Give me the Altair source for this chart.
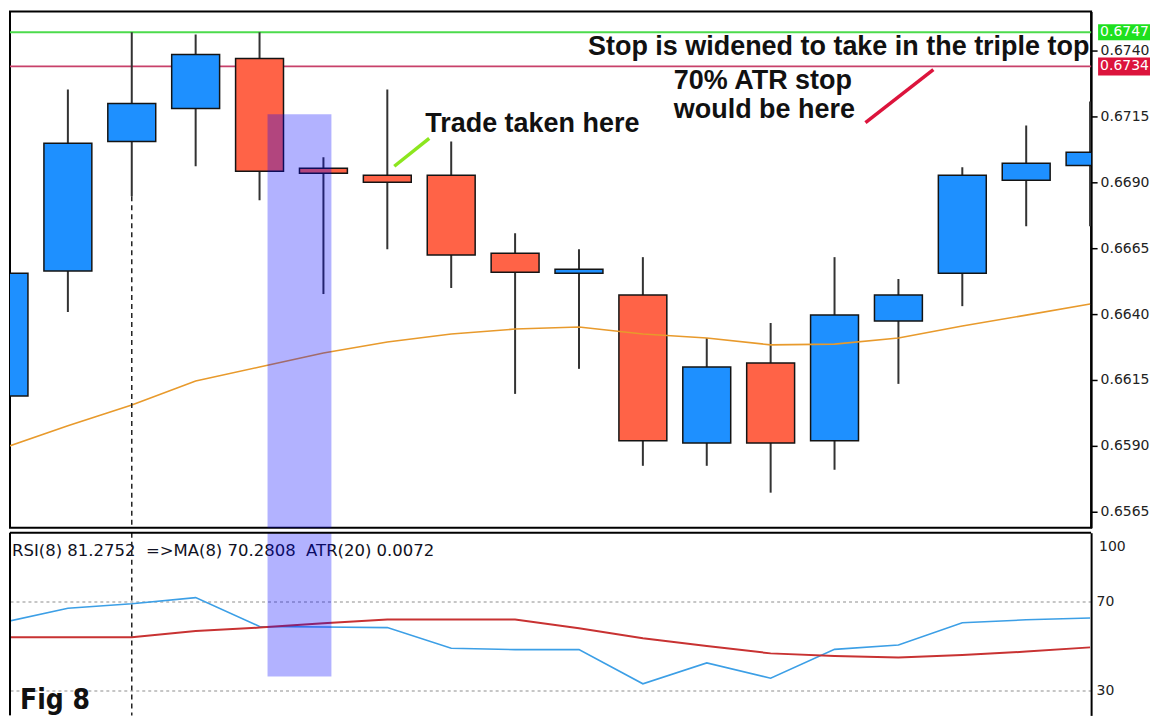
import altair as alt
import pandas as pd

# ---------------- data ----------------
candle_idx = list(range(18))
opens  = [0.66089, 0.66563, 0.67055, 0.67180, 0.67370, 0.66953, 0.66927, 0.66927, 0.66631,
          0.66555, 0.66472, 0.65911, 0.66214, 0.65919, 0.66374, 0.66555, 0.66908, 0.66964]
closes = [0.66555, 0.67048, 0.67199, 0.67385, 0.66942, 0.66934, 0.66900, 0.66624, 0.66559,
          0.66570, 0.65919, 0.66199, 0.65911, 0.66396, 0.66472, 0.66927, 0.66972, 0.67014]
highs  = [0.66620, 0.67252, 0.67470, 0.67461, 0.67470, 0.66995, 0.67252, 0.67055, 0.66707,
          0.66646, 0.66616, 0.66309, 0.66366, 0.66616, 0.66533, 0.66957, 0.67116, 0.67207]
lows   = [0.66040, 0.66408, 0.66847, 0.66961, 0.66832, 0.66476, 0.66646, 0.66499, 0.66097,
          0.66192, 0.65824, 0.65824, 0.65722, 0.65809, 0.66135, 0.66430, 0.66733, 0.66733]
ma_values = [0.65892, 0.65976, 0.66055, 0.66146, 0.66199, 0.66252, 0.66294, 0.66324, 0.66343,
             0.66351, 0.66324, 0.66309, 0.66283, 0.66286, 0.66309, 0.66355, 0.66396, 0.66438]
rsi_values = [60.7, 67.0, 69.0, 71.8, 58.8, 58.6, 58.3, 49.0, 48.4,
              48.4, 33.0, 42.4, 35.5, 48.5, 50.5, 60.5, 61.8, 62.6]
rsi_ma_values = [54.0, 54.0, 54.0, 56.8, 58.3, 60.3, 61.9, 61.9, 61.9,
                 58.0, 53.5, 50.0, 46.7, 45.5, 44.8, 46.0, 47.5, 49.4]

price_ticks = [0.6565, 0.6590, 0.6615, 0.6640, 0.6665, 0.6690, 0.6715, 0.6740]
rsi_ticks = [70, 30]
take_profit_line = 0.6747
atr_stop_line = 0.6734
info_text = "RSI(8) 81.2752\u00a0\u00a0=>MA(8) 70.2808\u00a0\u00a0ATR(20) 0.0072"

df = pd.DataFrame({
    "i": candle_idx, "open": opens, "high": highs, "low": lows, "close": closes,
    "ma": ma_values, "rsi": rsi_values, "rsi_ma": rsi_ma_values,
})
one = pd.DataFrame({"k": [0]})

W, H1, H2 = 1083, 517, 183
LABEL_FONT = "DejaVu Sans"
LABEL_SIZE = 14

xscale = alt.Scale(domain=[0.094, 17.016], nice=False, zero=False)
yscale = alt.Scale(domain=[0.65589, 0.67548], nice=False, zero=False)
rscale = alt.Scale(domain=[18.8, 101.0], nice=False, zero=False)

price_axis = alt.Axis(orient="right", values=price_ticks, format=".4f", title=None, grid=False,
                      domain=True, domainColor="black", domainWidth=2,
                      ticks=True, tickColor="black", tickSize=6, tickWidth=1.5,
                      labelFont=LABEL_FONT, labelFontSize=LABEL_SIZE, labelColor="#222222",
                      labelPadding=3)
rsi_axis = alt.Axis(orient="right", values=rsi_ticks, title=None, grid=True,
                    gridColor="#b4b4b4", gridDash=[3, 3], gridWidth=1.5,
                    domain=True, domainColor="black", domainWidth=2, ticks=False,
                    labelFont=LABEL_FONT, labelFontSize=LABEL_SIZE, labelColor="#222222",
                    labelPadding=5)


def X(field):
    return alt.X(field, type="quantitative", scale=xscale, axis=None)


def PY(field):
    return alt.Y(field, type="quantitative", scale=yscale, axis=price_axis)


def RY(field):
    return alt.Y(field, type="quantitative", scale=rscale, axis=rsi_axis)


# ---------------- price panel ----------------
green_line = alt.Chart(one).mark_rule(color="#4CDB4C", strokeWidth=2).encode(
    y=alt.Y(datum=take_profit_line, scale=yscale, axis=price_axis))
red_line = alt.Chart(one).mark_rule(color="#C8406A", strokeWidth=1.6).encode(
    y=alt.Y(datum=atr_stop_line, scale=yscale, axis=price_axis))

wicks = alt.Chart(df).mark_rule(color="#333333", strokeWidth=2, clip=True).encode(
    x=X("i"), y=PY("low"), y2="high:Q")

bodies = alt.Chart(df).transform_calculate(
    xl="datum.i - 0.375", xr="datum.i + 0.375",
    dir="datum.close >= datum.open ? 'up' : 'down'",
).mark_rect(stroke="#141414", strokeWidth=1.5, clip=True).encode(
    x=X("xl"), x2="xr:Q", y=PY("open"), y2="close:Q",
    color=alt.Color("dir:N", scale=alt.Scale(domain=["up", "down"],
                                             range=["#1E90FF", "#FF6347"]), legend=None))

ma_line = alt.Chart(df).mark_line(color="#E89A2C", strokeWidth=1.6, clip=True).encode(
    x=X("i"), y=PY("ma"))

vline_top = alt.Chart(one).mark_rule(color="#222222", strokeWidth=1.5, strokeDash=[5, 4]).encode(
    x=alt.X(datum=2, scale=xscale, axis=None),
    y=alt.Y(datum=lows[2], scale=yscale, axis=price_axis), y2=alt.value(H1))

highlight_top = alt.Chart(one).mark_rect(color="#0000FF", opacity=0.3).encode(
    x=alt.X(datum=4.125, scale=xscale, axis=None), x2=alt.datum(5.125),
    y=alt.Y(datum=0.67158, scale=yscale, axis=price_axis), y2=alt.value(H1))

ptr_green = alt.Chart(one).mark_rule(color="#8CE61E", strokeWidth=3.5).encode(
    x=alt.X(datum=6.109, scale=xscale, axis=None), x2=alt.datum(6.656),
    y=alt.Y(datum=0.66961, scale=yscale, axis=price_axis), y2=alt.datum(0.67067))
ptr_red = alt.Chart(one).mark_rule(color="#DC143C", strokeWidth=3.5).encode(
    x=alt.X(datum=13.484, scale=xscale, axis=None), x2=alt.datum(14.547),
    y=alt.Y(datum=0.67127, scale=yscale, axis=price_axis), y2=alt.datum(0.67328))

ann = dict(font="Liberation Sans", fontWeight="bold", fontSize=27, align="left",
           baseline="alphabetic", color="#111111")
t1 = alt.Chart(one).mark_text(text="Trade taken here", **ann).encode(
    x=alt.value(416), y=alt.value(121))
t2 = alt.Chart(one).mark_text(text="Stop is widened to take in the triple top", **ann).encode(
    x=alt.value(579), y=alt.value(43))
t3 = alt.Chart(one).mark_text(text="70% ATR stop", **ann).encode(
    x=alt.value(665), y=alt.value(78))
t4 = alt.Chart(one).mark_text(text="would be here", **ann).encode(
    x=alt.value(665), y=alt.value(107))

box_green = alt.Chart(one).mark_rect(color="#1EE01E", yOffset=-8, y2Offset=8).encode(
    x=alt.value(1090), x2=alt.value(1142),
    y=alt.Y(datum=take_profit_line, scale=yscale, axis=price_axis), y2=alt.datum(take_profit_line))
box_red = alt.Chart(one).mark_rect(color="#DC143C", yOffset=-9, y2Offset=9).encode(
    x=alt.value(1090), x2=alt.value(1142),
    y=alt.Y(datum=atr_stop_line, scale=yscale, axis=price_axis), y2=alt.datum(atr_stop_line))
lab_green = alt.Chart(one).mark_text(text=f"{take_profit_line:.4f}", color="white", align="left",
                                     baseline="middle", font=LABEL_FONT, fontSize=LABEL_SIZE).encode(
    x=alt.value(1092), y=alt.Y(datum=take_profit_line, scale=yscale, axis=price_axis))
lab_red = alt.Chart(one).mark_text(text=f"{atr_stop_line:.4f}", color="white", align="left",
                                   baseline="middle", font=LABEL_FONT, fontSize=LABEL_SIZE).encode(
    x=alt.value(1092), y=alt.Y(datum=atr_stop_line, scale=yscale, axis=price_axis))

top = alt.layer(
    green_line, red_line, wicks, bodies, ma_line, vline_top, highlight_top,
    ptr_green, ptr_red, t1, t2, t3, t4, box_green, box_red, lab_green, lab_red,
).properties(width=W, height=H1, view=alt.ViewBackground(stroke="black", strokeWidth=2))

# ---------------- RSI panel ----------------
rsi_line = alt.Chart(df).mark_line(color="#3C9FE6", strokeWidth=1.6, clip=True).encode(
    x=X("i"), y=RY("rsi"))
rsi_ma_line = alt.Chart(df).mark_line(color="#C83232", strokeWidth=2, clip=True).encode(
    x=X("i"), y=RY("rsi_ma"))

info = alt.Chart(one).mark_text(text=info_text, align="left", baseline="middle",
                                font=LABEL_FONT, fontSize=16.5, color="#111122").encode(
    x=alt.value(2), y=alt.value(18))

highlight_bot = alt.Chart(one).mark_rect(color="#0000FF", opacity=0.3).encode(
    x=alt.X(datum=4.125, scale=xscale, axis=None), x2=alt.datum(5.125),
    y=alt.Y(datum=36.3, scale=rscale, axis=rsi_axis), y2=alt.value(0))

vline_bot = alt.Chart(one).mark_rule(color="#222222", strokeWidth=1.5, strokeDash=[5, 4]).encode(
    x=alt.X(datum=2, scale=xscale, axis=None), y=alt.value(0), y2=alt.value(H2))

top_border = alt.Chart(one).mark_rule(color="black", strokeWidth=2).encode(y=alt.value(0))
left_border = alt.Chart(one).mark_rule(color="black", strokeWidth=2).encode(x=alt.value(0))

lab100 = alt.Chart(one).mark_text(text="100", align="left", baseline="middle", dy=12,
                                  font=LABEL_FONT, fontSize=LABEL_SIZE, color="#222222").encode(
    x=alt.value(1091), y=alt.Y(datum=100, scale=rscale, axis=rsi_axis))

fig = alt.Chart(one).mark_text(text="Fig 8", align="left", baseline="alphabetic",
                               font="Liberation Sans Narrow, DejaVu Sans Condensed, Liberation Sans",
                               fontWeight="bold", fontSize=28, color="#111111").encode(
    x=alt.value(10), y=alt.value(177))

bottom = alt.layer(
    rsi_line, rsi_ma_line, info, highlight_bot, vline_bot, top_border, left_border, lab100, fig,
).properties(width=W, height=H2, view=alt.ViewBackground(stroke="transparent"))

chart = alt.vconcat(top, bottom, spacing=1).properties(
    padding={"left": 0, "top": 2, "right": 0, "bottom": 0}, background="white")

chart.save("out.html", embed_options={"renderer": "svg", "actions": False})
